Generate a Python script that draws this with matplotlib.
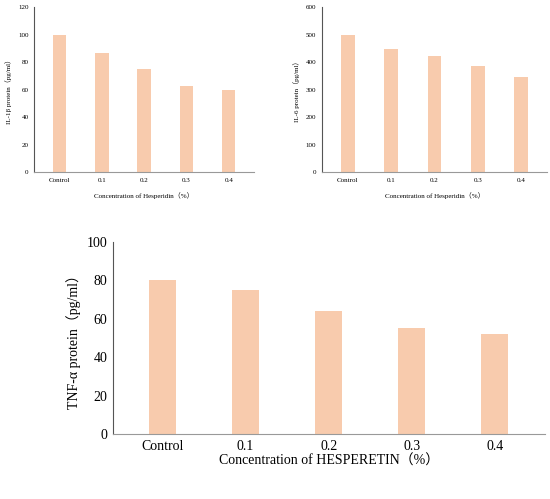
import matplotlib.pyplot as plt

cats = ['Control', '0.1', '0.2', '0.3', '0.4']
il1b = [100, 87, 75, 63, 60]
il6 = [500, 450, 422, 387, 345]
tnf = [80, 75, 64, 55, 52]

plt.rcParams['font.family'] = ['Liberation Serif', 'Noto Sans CJK SC']
bar_col = '#F8CBAD'

fig = plt.figure(figsize=(5.5, 4.99), dpi=100)

def panel(rect, vals, ymax, step, ylab, xlab, fs, lfs, lpad):
    ax = fig.add_axes(rect)
    ax.bar(range(len(cats)), vals, width=0.32, color=bar_col)
    ax.set_ylim(0, ymax)
    ax.set_yticks(range(0, ymax + 1, step))
    ax.set_xlim(-0.6, len(cats) - 0.4)
    ax.set_xticks(range(len(cats)))
    ax.set_xticklabels(cats)
    for s in ['top', 'right']:
        ax.spines[s].set_visible(False)
    ax.spines['bottom'].set_color('#999999')
    ax.spines['left'].set_color('#555555')
    ax.tick_params(length=0, labelsize=fs, pad=4)
    ax.set_ylabel(ylab, fontsize=lfs)
    ax.set_xlabel(xlab, fontsize=lfs, labelpad=lpad)
    return ax

panel([0.062, 0.655, 0.40, 0.33], il1b, 120, 20,
      'IL-1β protein（pg/ml）', 'Concentration of Hesperidin（%）', 5, 5, 7)
panel([0.585, 0.655, 0.41, 0.33], il6, 600, 100,
      'IL-6 protein（pg/ml）', 'Concentration of Hesperidin（%）', 5, 5, 7)
panel([0.205, 0.13, 0.785, 0.385], tnf, 100, 20,
      'TNF-α protein（pg/ml）', 'Concentration of HESPERETIN（%）', 10, 10, 1)

fig.savefig('out.png', dpi=100)
